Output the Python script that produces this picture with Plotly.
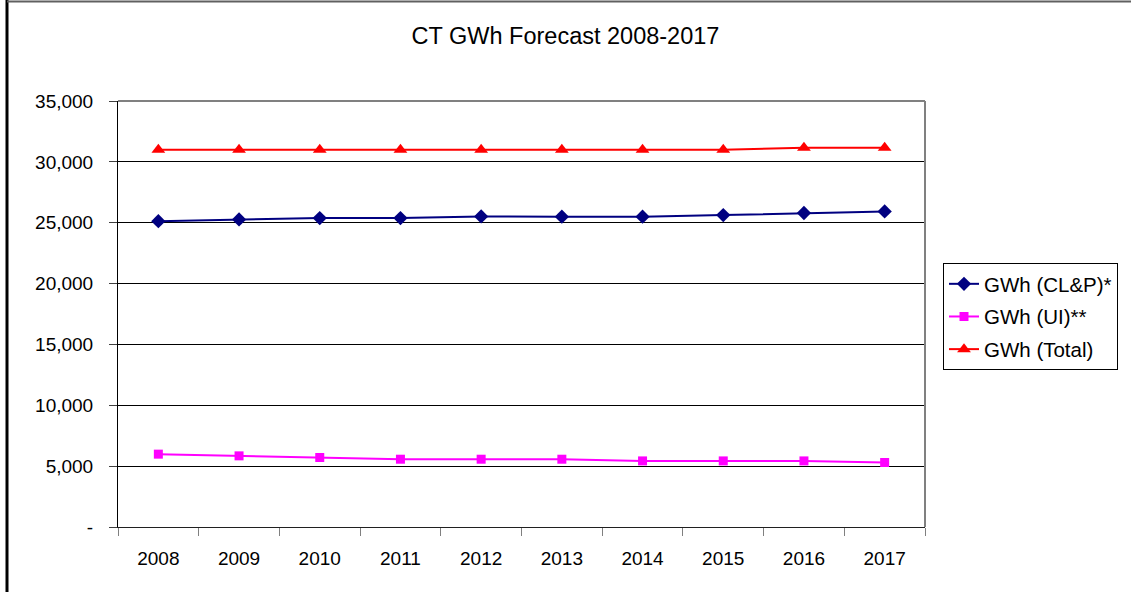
import plotly.graph_objects as go

years = ["2008", "2009", "2010", "2011", "2012", "2013", "2014", "2015", "2016", "2017"]
clp = [25130, 25270, 25380, 25380, 25520, 25500, 25500, 25630, 25800, 25930]
ui = [5985, 5845, 5710, 5570, 5570, 5570, 5430, 5430, 5430, 5300]
total = [31000, 31000, 31000, 31000, 31000, 31000, 31000, 31000, 31150, 31150]
ytick_vals = [0, 5000, 10000, 15000, 20000, 25000, 30000, 35000]
ytick_text = ["-", "5,000", "10,000", "15,000", "20,000", "25,000", "30,000", "35,000"]

FONT = "Liberation Sans, Arial, sans-serif"

fig = go.Figure()
fig.add_trace(go.Scatter(x=years, y=clp, name="GWh (CL&P)*", mode="lines+markers",
                         line=dict(color="#000080", width=2),
                         marker=dict(symbol="diamond", size=11, color="#000080"),
                         legendgroup="a"))
fig.add_trace(go.Scatter(x=years, y=ui, name="GWh (UI)**", mode="lines+markers",
                         line=dict(color="#FF00FF", width=2),
                         marker=dict(symbol="square", size=9, color="#FF00FF"),
                         legendgroup="b"))
fig.add_trace(go.Scatter(x=years, y=total, name="GWh (Total)", mode="lines+markers",
                         line=dict(color="#FF0000", width=2),
                         marker=dict(symbol="triangle-up", size=12, color="#FF0000"),
                         legendgroup="c"))

L, R, T, B = 118, 1131 - 925, 101, 592 - 527
pw, ph = 1131 - L - R, 592 - T - B

def px(x):
    return (x - L) / pw

def py(y):
    return (592 - B - y) / ph

fig.update_layout(
    width=1131, height=592,
    margin=dict(l=L, r=R, t=T, b=B, pad=0),
    paper_bgcolor="white", plot_bgcolor="white",
    font=dict(family=FONT, size=19, color="black"),
    title=dict(text="CT GWh Forecast 2008-2017", x=0.5, xref="container",
               y=1 - 36 / 592, yref="container", yanchor="middle", xanchor="center",
               font=dict(family=FONT, size=23.5, color="black")),
    showlegend=True,
    legend=dict(x=px(943), y=py(263), xanchor="left", yanchor="top",
                bordercolor="black", borderwidth=1, bgcolor="white",
                font=dict(family=FONT, size=20.5, color="black"),
                tracegroupgap=3, traceorder="grouped",
                itemwidth=30),
    xaxis=dict(type="category", tickson="boundaries", ticks="outside", ticklen=8,
               tickcolor="#808080", showline=True, linecolor="#202020", linewidth=1,
               showgrid=False, ticklabelstandoff=14, range=[-0.5, 9.5],
               tickfont=dict(family=FONT, size=19, color="black")),
    yaxis=dict(range=[0, 35000], tickvals=ytick_vals, ticktext=ytick_text,
               ticks="outside", ticklen=8, tickcolor="#404040",
               showline=True, linecolor="black", linewidth=1,
               showgrid=True, gridcolor="black", gridwidth=1, zeroline=False,
               ticklabelstandoff=12,
               tickfont=dict(family=FONT, size=19, color="black")),
    shapes=[
        # plot area top and right border (gray)
        dict(type="line", xref="paper", yref="paper", x0=0, x1=1, y0=1, y1=1,
             line=dict(color="#808080", width=2), layer="above"),
        dict(type="line", xref="paper", yref="paper", x0=1, x1=1, y0=0, y1=1,
             line=dict(color="#808080", width=2), layer="above"),
        # outer chart border
        dict(type="line", xref="paper", yref="paper", x0=px(7), x1=px(7), y0=py(592), y1=py(0),
             line=dict(color="black", width=3)),
        dict(type="line", xref="paper", yref="paper", x0=px(7), x1=px(1131), y0=py(1.5), y1=py(1.5),
             line=dict(color="#606060", width=2)),
    ],
)

fig.write_html("out.html", config={"displayModeBar": False},
               post_script="document.body.style.margin='0';document.body.style.padding='0';")
